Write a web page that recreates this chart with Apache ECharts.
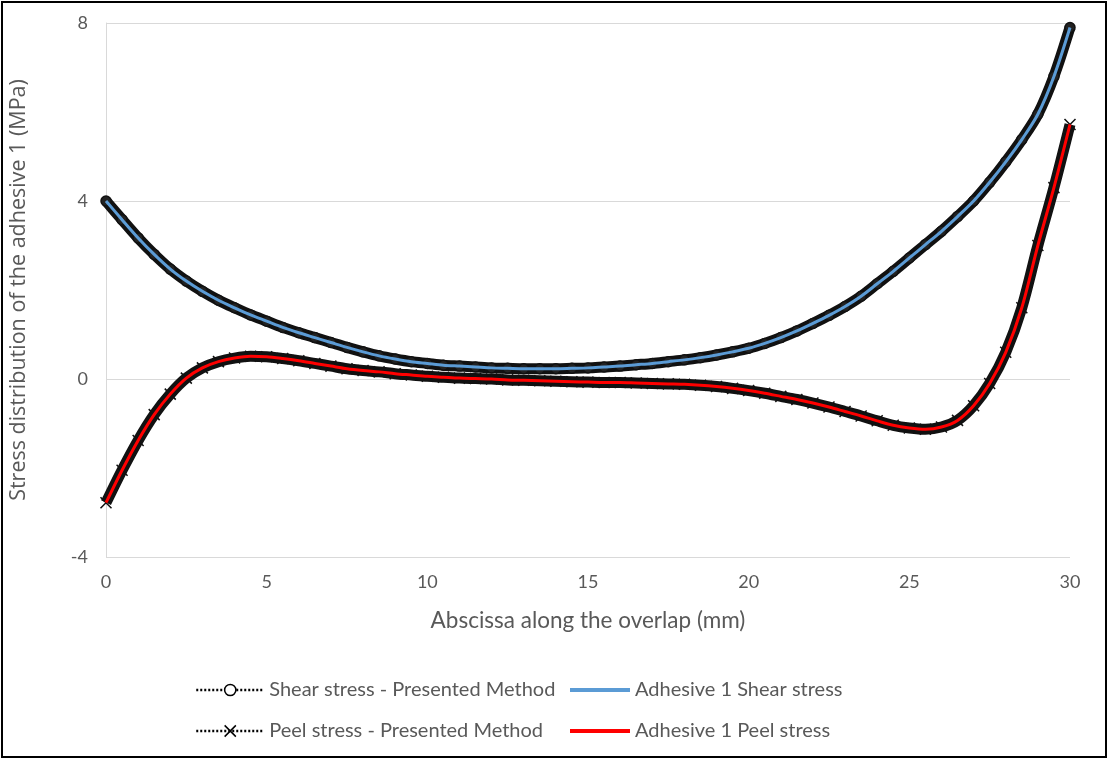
<!DOCTYPE html>
<html>
<head>
<meta charset="utf-8">
<script src="https://cdn.jsdelivr.net/npm/echarts@6/dist/echarts.min.js"></script>
<style>
html,body{margin:0;padding:0;background:#fff;}
#chart{width:1109px;height:760px;}
</style>
</head>
<body>
<div id="chart"></div>
<script>
// Abscissa along the overlap (mm), 0.5 mm step
const xValues = [0,0.5,1,1.5,2,2.5,3,3.5,4,4.5,5,5.5,6,6.5,7,7.5,8,8.5,9,9.5,10,10.5,11,11.5,12,12.5,13,13.5,14,14.5,15,15.5,16,16.5,17,17.5,18,18.5,19,19.5,20,20.5,21,21.5,22,22.5,23,23.5,24,24.5,25,25.5,26,26.5,27,27.5,28,28.5,29,29.5,30];
// Shear stress (MPa) – presented method and adhesive 1 curves coincide
const shearValues = [4.00,3.58,3.17,2.80,2.47,2.20,1.97,1.77,1.60,1.44,1.30,1.16,1.04,0.93,0.82,0.71,0.61,0.52,0.45,0.39,0.35,0.31,0.29,0.27,0.25,0.24,0.23,0.23,0.23,0.24,0.25,0.27,0.29,0.32,0.35,0.39,0.43,0.48,0.54,0.61,0.69,0.80,0.93,1.08,1.25,1.43,1.63,1.86,2.14,2.42,2.72,3.02,3.32,3.65,4.00,4.42,4.88,5.38,5.95,6.80,7.90];
// Peel stress (MPa) – presented method and adhesive 1 curves coincide
const peelValues = [-2.78,-2.05,-1.38,-0.80,-0.34,0.02,0.25,0.39,0.47,0.51,0.50,0.46,0.41,0.35,0.29,0.23,0.19,0.16,0.12,0.09,0.06,0.04,0.02,0.01,0.00,-0.02,-0.03,-0.04,-0.05,-0.06,-0.07,-0.08,-0.08,-0.09,-0.10,-0.11,-0.12,-0.14,-0.17,-0.21,-0.26,-0.32,-0.39,-0.46,-0.54,-0.63,-0.73,-0.83,-0.94,-1.04,-1.10,-1.13,-1.08,-0.93,-0.60,-0.10,0.60,1.60,3.00,4.30,5.72];
const seriesNames = ['Shear stress - Presented Method','Adhesive 1 Shear stress','Peel stress - Presented Method','Adhesive 1 Peel stress'];
const yTicks = [-4,0,4,8];

function pairs(vals){ return xValues.map((x,i)=>[x, vals[i]]); }

const chart = echarts.init(document.getElementById('chart'), null, {renderer:'canvas'});
const txt = '#595959';
const xMark = 'path://M0,0L10,10M10,0L0,10';
chart.setOption({
  backgroundColor:'#fff',
  animation:false,
  graphic:[{type:'rect', shape:{x:2,y:2,width:1104,height:755}, style:{fill:'none', stroke:'#000', lineWidth:2}, silent:true}],
  grid:{left:106, right:39, top:23, bottom:203},
  xAxis:{
    type:'value', min:0, max:30, interval:5,
    name:'Abscissa along the overlap (mm)', nameLocation:'middle', nameGap:52,
    nameTextStyle:{color:txt, fontFamily:'Lato', fontSize:22.5},
    axisLine:{show:false}, axisTick:{show:false}, splitLine:{show:false},
    axisLabel:{color:txt, fontFamily:'Lato', fontSize:18, margin:16}
  },
  yAxis:{
    type:'value', min:-4, max:8, interval:4,
    name:'Stress distribution of the adhesive 1 (MPa)', nameLocation:'middle', nameGap:76,
    nameTextStyle:{color:txt, fontFamily:'Open Sans', fontSize:21.5},
    axisLine:{show:true, lineStyle:{color:'#d9d9d9', width:1}}, axisTick:{show:false},
    splitLine:{show:true, lineStyle:{color:'#d9d9d9', width:1}},
    axisLabel:{color:txt, fontFamily:'Lato', fontSize:18, margin:18,
      formatter:v=>yTicks.includes(v)?String(v):''}
  },
  legend:[
    {data:[
      {name:seriesNames[0], lineStyle:{width:2.5, type:[2,2], color:'#000'}, itemStyle:{color:'#fff', borderColor:'#000', borderWidth:1.5}},
      {name:seriesNames[2], lineStyle:{width:2.5, type:[2,2], color:'#000'}, itemStyle:{color:'#000', borderColor:'#000', borderWidth:1.5}}
     ],
     orient:'vertical', left:190, top:675, itemWidth:68, itemHeight:14, itemGap:21,
     textStyle:{color:txt, fontFamily:'Lato', fontSize:20}, selectedMode:false},
    {data:[
      {name:seriesNames[1], icon:'rect', itemStyle:{color:'#5b9bd5'}},
      {name:seriesNames[3], icon:'rect', itemStyle:{color:'#ff0000'}}
     ],
     orient:'vertical', left:565, top:675, itemWidth:60, itemHeight:4, itemGap:21,
     textStyle:{color:txt, fontFamily:'Lato', fontSize:20}, selectedMode:false}
  ],
  series:[
    {name:seriesNames[0], type:'line', data:pairs(shearValues), smooth:0.3,
     symbol:'circle', symbolSize:10, showSymbol:true,
     lineStyle:{color:'#111', width:11}, itemStyle:{color:'#222', borderColor:'#111', borderWidth:1.5}, z:1},
    {name:seriesNames[1], type:'line', data:pairs(shearValues), smooth:0.3, symbol:'none',
     lineStyle:{color:'#5b9bd5', width:3}, itemStyle:{color:'#5b9bd5'}, z:3},
    {name:seriesNames[2], type:'line', data:pairs(peelValues), smooth:0.3,
     symbol:xMark, symbolSize:11, showSymbol:true,
     lineStyle:{color:'#111', width:11}, itemStyle:{color:'#111', borderColor:'#111', borderWidth:1.5}, z:2},
    {name:seriesNames[3], type:'line', data:pairs(peelValues), smooth:0.3, symbol:'none',
     lineStyle:{color:'#ff0000', width:3}, itemStyle:{color:'#ff0000'}, z:4}
  ]
});
</script>
</body>
</html>
